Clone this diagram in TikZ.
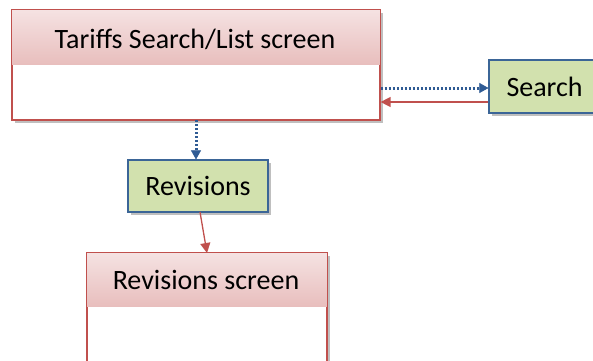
\documentclass[tikz,border=0pt]{standalone}
\usepackage{fontspec}
\setmainfont{Carlito}
\usetikzlibrary{arrows.meta,shadows,calc}
\definecolor{redline}{HTML}{C0504D}
\definecolor{pinktop}{HTML}{F5E2E2}
\definecolor{pinkbot}{HTML}{E8BEBD}
\definecolor{greenfill}{HTML}{D2E1AE}
\definecolor{blueline}{HTML}{3B6597}
\definecolor{bluedot}{HTML}{2F5B94}
\tikzset{
  screenbox/.style={draw=redline, line width=1.2pt, fill=white, rectangle, inner sep=0pt,
    drop shadow={shadow xshift=3pt, shadow yshift=-3pt, opacity=0.25, fill=black}},
  actbox/.style={draw=blueline, line width=1.2pt, fill=greenfill, rectangle, inner sep=0pt,
    font=\fontsize{28}{32}\selectfont,
    drop shadow={shadow xshift=3pt, shadow yshift=-3pt, opacity=0.25, fill=black}},
  headtxt/.style={font=\fontsize{28}{32}\selectfont, inner sep=0pt},
  dotarr/.style={draw=bluedot, line width=3pt, dash pattern=on 2pt off 2pt, -{Triangle[length=9pt,width=10pt,fill=bluedot,line width=0.5pt]}},
  redarr/.style={draw=redline, line width=1.3pt, -{Triangle[length=10pt,width=10pt]}}
}
\begin{document}
\begin{tikzpicture}[x=1pt,y=-1pt]
\useasboundingbox (0,0) rectangle (593,360);
\clip (0,0) rectangle (593,360);
% Tariffs screen
\node[screenbox, minimum width=368pt, minimum height=110pt] (tar) at (196,65) {};
\fill[top color=pinktop, bottom color=pinkbot] ([shift={(0.6pt,-0.6pt)}]tar.north west) rectangle ($(tar.north east)+(-0.6,55)$);
\draw[redline, line width=1.2pt] (tar.north west) rectangle (tar.south east);
\node[headtxt] (tart) at (195,39) {Tariffs Search/List screen};
% Search
\node[actbox, minimum width=111pt, minimum height=53pt, text width=104pt, align=left, inner xsep=0pt] (sea) at (544.5,86.5) {\hspace*{14pt}Search};
% Revisions
\node[actbox, minimum width=140pt, minimum height=52pt] (rev) at (198,186) {Revisions};
% Revisions screen
\node[screenbox, minimum width=240pt, minimum height=130pt] (rsc) at (207,318) {};
\fill[top color=pinktop, bottom color=pinkbot] ([shift={(0.6pt,-0.6pt)}]rsc.north west) rectangle ($(rsc.north east)+(-0.6,54)$);
\draw[redline, line width=1.2pt] (rsc.north west) rectangle (rsc.south east);
\node[headtxt] (rsct) at (206,280) {Revisions screen};
% connectors
\draw[dotarr] (tar.east |- 0,88) -- (sea.west |- 0,88);
\draw[redarr] (sea.west |- 0,102) -- (tar.east |- 0,102);
\draw[dotarr] (196,120) -- (rev.north -| 196,0);
\draw[redarr] (200,212) -- (207,253);
\end{tikzpicture}
\end{document}
